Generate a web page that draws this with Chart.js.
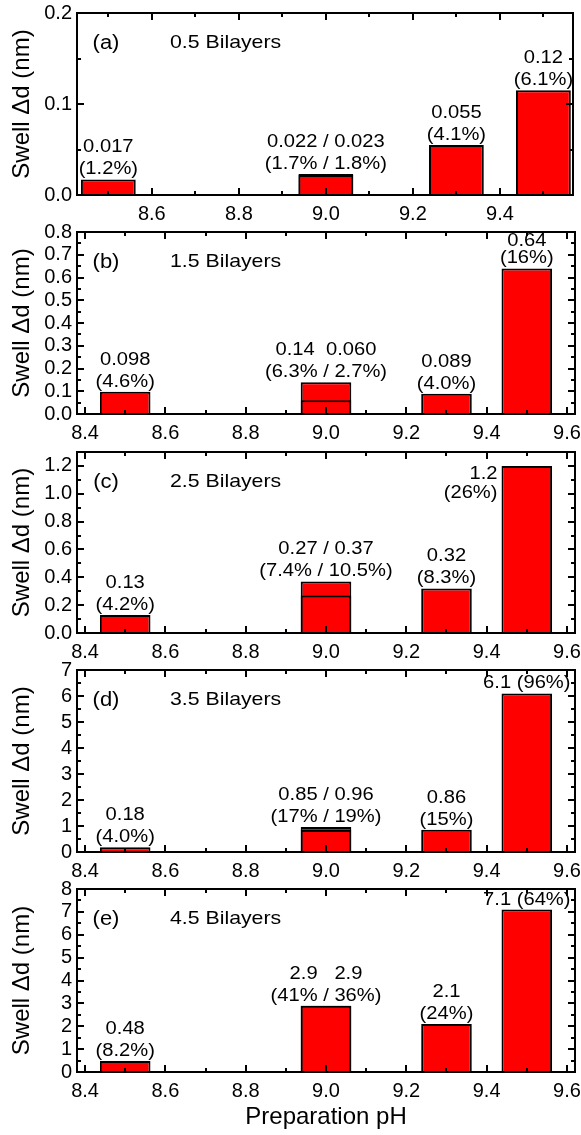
<!DOCTYPE html>
<html>
<head>
<meta charset="utf-8">
<script src="https://cdn.jsdelivr.net/npm/chart.js@4.4.1/dist/chart.umd.min.js"></script>
<style>
html, body { margin: 0; padding: 0; background: #fff; }
#wrap { position: relative; width: 581px; height: 1135px; background: #fff; }
canvas { position: absolute; left: 0; top: 0; }
</style>
</head>
<body>
<div id="wrap">
  <canvas id="c0" width="581" height="1135"></canvas>
  <canvas id="c1" width="581" height="1135"></canvas>
  <canvas id="c2" width="581" height="1135"></canvas>
  <canvas id="c3" width="581" height="1135"></canvas>
  <canvas id="c4" width="581" height="1135"></canvas>
</div>
<script>
// ---------------- DATA ----------------
const pH = [8.5, 9.0, 9.3, 9.5];        // preparation pH of each bar
const innerPH = [9.0];                  // pH of the overlaid (second) bar

const swellA = [0.017, 0.023, 0.055, 0.115];
const innerA = [0.022];
const swellB = [0.098, 0.14, 0.089, 0.64];
const innerB = [0.06];
const swellC = [0.13, 0.37, 0.32, 1.2];
const innerC = [0.27];
const swellD = [0.18, 0.96, 0.86, 6.1];
const innerD = [0.85];
const swellE = [0.48, 2.9, 2.1, 7.1];
const innerE = [2.9];

const notesA = [['0.017', '(1.2%)'], ['0.022 / 0.023', '(1.7% / 1.8%)'], ['0.055', '(4.1%)'], ['0.12', '(6.1%)']];
const notesB = [['0.098', '(4.6%)'], ['0.14  0.060', '(6.3% / 2.7%)'], ['0.089', '(4.0%)'], ['0.64', '(16%)']];
const notesC = [['0.13', '(4.2%)'], ['0.27 / 0.37', '(7.4% / 10.5%)'], ['0.32', '(8.3%)'], ['1.2', '(26%)']];
const notesD = [['0.18', '(4.0%)'], ['0.85 / 0.96', '(17% / 19%)'], ['0.86', '(15%)'], ['6.1 (96%)']];
const notesE = [['0.48', '(8.2%)'], ['2.9   2.9', '(41% / 36%)'], ['2.1', '(24%)'], ['7.1 (64%)']];

const panelTags = ['(a)', '(b)', '(c)', '(d)', '(e)'];
const panelTitles = ['0.5 Bilayers', '1.5 Bilayers', '2.5 Bilayers', '3.5 Bilayers', '4.5 Bilayers'];

const xTicksA = [8.6, 8.8, 9.0, 9.2, 9.4];
const xTicksFull = [8.4, 8.6, 8.8, 9.0, 9.2, 9.4, 9.6];
const xMinorA = [8.5, 8.7, 8.9, 9.1, 9.3, 9.5];
const xMinorFull = [8.5, 8.7, 8.9, 9.1, 9.3, 9.5];
const yTicksA = [0, 0.1, 0.2];
const yMinorA = [0.05, 0.15];
const yTicksB = [0, 0.1, 0.2, 0.3, 0.4, 0.5, 0.6, 0.7, 0.8];
const yMinorB = [0.05, 0.15, 0.25, 0.35, 0.45, 0.55, 0.65, 0.75];
const yTicksC = [0, 0.2, 0.4, 0.6, 0.8, 1.0, 1.2];
const yMinorC = [0.1, 0.3, 0.5, 0.7, 0.9, 1.1];
const yTicksD = [0, 1, 2, 3, 4, 5, 6, 7];
const yMinorD = [0.5, 1.5, 2.5, 3.5, 4.5, 5.5, 6.5];
const yTicksE = [0, 1, 2, 3, 4, 5, 6, 7, 8];
const yMinorE = [0.5, 1.5, 2.5, 3.5, 4.5, 5.5, 6.5, 7.5];

const yTitle = 'Swell \u0394d (nm)';
const xTitle = 'Preparation pH';

// ---------------- LAYOUT / STYLE ----------------
const W = 581, H = 1135;
const FONT = "'Liberation Sans', Arial, sans-serif";
const panels = [
  { values: swellA, inner: innerA, notes: notesA, xTicks: xTicksA, xMinor: xMinorA, yTicks: yTicksA, yMinor: yMinorA, xMin: 8.428, xMax: 9.568, yMax: 0.2, yDec: 1, top: 13, bottom: 195, right: 573, place: {} },
  { values: swellB, inner: innerB, notes: notesB, xTicks: xTicksFull, xMinor: xMinorFull, yTicks: yTicksB, yMinor: yMinorB, xMin: 8.38, xMax: 9.62, yMax: 0.8, yDec: 1, top: 232, bottom: 414, right: 575, place: { 3: 'tight' } },
  { values: swellC, inner: innerC, notes: notesC, xTicks: xTicksFull, xMinor: xMinorFull, yTicks: yTicksC, yMinor: yMinorC, xMin: 8.38, xMax: 9.62, yMax: 1.3, yDec: 1, top: 452, bottom: 633, right: 575, place: { 3: 'left' } },
  { values: swellD, inner: innerD, notes: notesD, xTicks: xTicksFull, xMinor: xMinorFull, yTicks: yTicksD, yMinor: yMinorD, xMin: 8.38, xMax: 9.62, yMax: 7, yDec: 0, top: 670, bottom: 852, right: 575, place: {} },
  { values: swellE, inner: innerE, notes: notesE, xTicks: xTicksFull, xMinor: xMinorFull, yTicks: yTicksE, yMinor: yMinorE, xMin: 8.38, xMax: 9.62, yMax: 8, yDec: 0, top: 889, bottom: 1072, right: 575, place: {} }
];

function sText(ctx, txt, x, y, align, sx) {
  ctx.save();
  ctx.translate(x, y);
  ctx.scale(sx, 1);
  ctx.textAlign = align;
  ctx.textBaseline = 'middle';
  ctx.fillText(txt, 0, 0);
  ctx.restore();
}

function makePanel(i) {
  const P = panels[i];
  const last = i === panels.length - 1;
  const xAxisH = last ? 60 : 30;

  const deco = {
    id: 'deco' + i,
    afterDraw(chart) {
      const ctx = chart.ctx;
      const a = chart.chartArea;
      const xs = chart.scales.x, ys = chart.scales.y;
      const L0 = Math.round(a.left), R0 = Math.round(a.right), T0 = Math.round(a.top), B0 = Math.round(a.bottom);
      ctx.save();
      ctx.fillStyle = '#000';
      ctx.strokeStyle = '#000';
      ctx.lineWidth = 2;
      ctx.beginPath();
      const xMarks = P.xTicks.map(v => [v, 7]).concat(P.xMinor.map(v => [v, 4]));
      xMarks.forEach(m => {
        const px = Math.round(xs.getPixelForValue(m[0]));
        if (px < L0 || px > R0) return;
        ctx.moveTo(px, B0); ctx.lineTo(px, B0 - m[1]);
        ctx.moveTo(px, T0); ctx.lineTo(px, T0 + m[1]);
      });
      const yMarks = P.yTicks.map(v => [v, 7]).concat(P.yMinor.map(v => [v, 4]));
      yMarks.forEach(m => {
        const py = Math.round(ys.getPixelForValue(m[0]));
        ctx.moveTo(L0, py); ctx.lineTo(L0 + m[1], py);
        ctx.moveTo(R0, py); ctx.lineTo(R0 - m[1], py);
      });
      ctx.stroke();
      // frame
      ctx.strokeRect(L0, T0, R0 - L0, B0 - T0);

      // value notes above bars
      const meta = chart.getDatasetMeta(0);
      ctx.font = '18px ' + FONT;
      P.notes.forEach((lines, k) => {
        const el = meta.data[k];
        const mode = P.place[k] || 'above';
        const n = lines.length;
        if (mode === 'left') {
          const xr = el.x - el.width / 2 - 4;
          lines.forEach((t, j) => sText(ctx, t, xr, el.y + 8 + j * 19, 'right', 1.12));
        } else {
          const gap = mode === 'tight' ? 17 : 22;
          lines.forEach((t, j) => sText(ctx, t, el.x, el.y - 10 - (n - 1 - j) * gap, 'center', 1.12));
        }
      });
      ctx.font = '20px ' + FONT;
      sText(ctx, panelTags[i], a.left + 29, a.top + 30, 'center', 1.1);
      ctx.font = '19px ' + FONT;
      sText(ctx, panelTitles[i], a.left + 93, a.top + 30, 'left', 1.12);
      ctx.restore();
    }
  };

  const barStyle = {
    backgroundColor: '#ff0000',
    borderColor: '#000000',
    borderWidth: 2,
    grouped: false,
    barPercentage: 1,
    categoryPercentage: 0.63
  };

  new Chart(document.getElementById('c' + i), {
    type: 'bar',
    data: {
      datasets: [
        Object.assign({ data: P.values.map((v, k) => ({ x: pH[k], y: v })), order: 1 }, barStyle),
        Object.assign({ data: P.inner.map((v, k) => ({ x: innerPH[k], y: v })), order: 0 }, barStyle)
      ]
    },
    options: {
      responsive: false,
      animation: false,
      events: [],
      layout: { padding: { left: 0, top: P.top, right: W - P.right, bottom: H - P.bottom - xAxisH } },
      plugins: { legend: { display: false }, tooltip: { enabled: false } },
      scales: {
        x: {
          type: 'linear',
          offset: false,
          min: P.xMin,
          max: P.xMax,
          grid: { display: false, drawTicks: false, offset: false },
          border: { display: false },
          ticks: {
            autoSkip: false, maxRotation: 0, padding: 7, color: '#000',
            font: { family: FONT, size: 20 },
            callback: v => Number(v).toFixed(1)
          },
          afterBuildTicks: s => { s.ticks = P.xTicks.map(v => ({ value: v })); },
          afterFit: s => { s.height = xAxisH; s.paddingLeft = 0; s.paddingRight = 0; },
          title: {
            display: last, text: xTitle, color: '#000',
            font: { family: FONT, size: 24 }, padding: { top: 0, bottom: 0 }
          }
        },
        y: {
          min: 0,
          max: P.yMax,
          grid: { display: false, drawTicks: false },
          border: { display: false },
          ticks: {
            autoSkip: false, padding: 5, color: '#000',
            font: { family: FONT, size: 20 },
            callback: v => Number(v).toFixed(P.yDec)
          },
          afterBuildTicks: s => { s.ticks = P.yTicks.map(v => ({ value: v })); },
          afterFit: s => { s.width = 77; s.paddingTop = 0; s.paddingBottom = 0; },
          title: {
            display: true, text: yTitle, color: '#000',
            font: { family: FONT, size: 24 }, padding: { top: 8, bottom: 0 }
          }
        }
      }
    },
    plugins: [deco]
  });
}

for (let i = 0; i < panels.length; i++) makePanel(i);
</script>
</body>
</html>
